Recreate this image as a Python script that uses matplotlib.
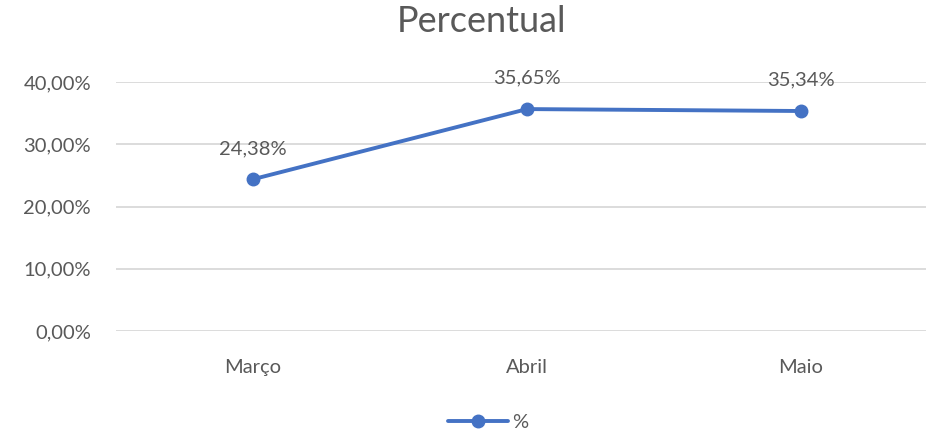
import matplotlib.pyplot as plt
from matplotlib.ticker import FuncFormatter

meses = ["Março", "Abril", "Maio"]
percentual = [0.2438, 0.3565, 0.3534]
rotulos = ["24,38%", "35,65%", "35,34%"]
serie = "%"

plt.rcParams['font.family'] = ['Lato', 'DejaVu Sans']

fig = plt.figure(figsize=(9.26, 4.33), dpi=100)
ax = fig.add_axes([116 / 926, 102 / 433, 810 / 926, 249 / 433])

cor = '#4472C4'
texto = '#595959'

ax.plot(meses, percentual, color=cor, linewidth=2.8, marker='o', markersize=9,
        label=serie, solid_capstyle='round', zorder=3)

for i, (v, r) in enumerate(zip(percentual, rotulos)):
    ax.annotate(r, (i, v), xytext=(0, 16), textcoords='offset points',
                ha='center', va='bottom', fontsize=14.5, color=texto)

ax.set_ylim(0, 0.4)
ax.set_xlim(-0.5, 2.456)
ax.set_yticks([0, 0.1, 0.2, 0.3, 0.4])
ax.yaxis.set_major_formatter(FuncFormatter(lambda v, p: f"{v * 100:.2f}%".replace('.', ',')))
ax.grid(axis='y', color='#D9D9D9', linewidth=1.3)
ax.set_axisbelow(True)
for s in ax.spines.values():
    s.set_visible(False)
ax.tick_params(axis='both', length=0, labelsize=14.5, labelcolor=texto)
ax.tick_params(axis='y', pad=18)
ax.tick_params(axis='x', pad=20)

fig.text(482 / 926, 1 - 22 / 433, "Percentual", ha='center', va='center',
         fontsize=26, color=texto)

fig.legend(loc='center', bbox_to_anchor=(488 / 926, 1 - 422 / 433), frameon=False,
           fontsize=14.5, labelcolor=texto, handlelength=3.0, handletextpad=0.2)

plt.savefig('out.png', dpi=100)
plt.close()
